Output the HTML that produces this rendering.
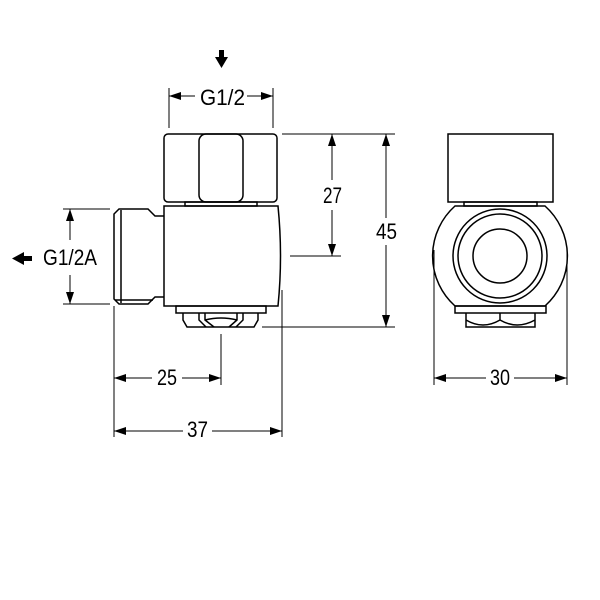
<!DOCTYPE html>
<html><head><style>html,body{margin:0;padding:0;background:#fff}svg{display:block}text{font-family:"Liberation Sans",sans-serif;font-size:22px;fill:#000}</style></head>
<body>
<svg width="600" height="600" viewBox="0 0 600 600" xmlns="http://www.w3.org/2000/svg">
<defs>
<marker id="a" viewBox="0 0 12 8" refX="12" refY="4" markerWidth="12" markerHeight="8" orient="auto-start-reverse" markerUnits="userSpaceOnUse"><path d="M0,0L12,4L0,8z" fill="#000"/></marker>
</defs>
<g fill="none" stroke="#000" stroke-width="1.5">
<rect x="164" y="134" width="113" height="68" rx="4"/>
<rect x="199" y="134" width="44" height="68" rx="7"/>
<rect x="185" y="202" width="72" height="4"/>
<path d="M164,206 L278,206 Q283,256 278,306 L164,306 Z"/>
<path d="M164,216 L155,216 L148,209 L119,209 L114,214 L114,299 L119,304 L148,304 L155,297 L164,297"/>
<line x1="121" y1="210" x2="121" y2="303"/>
<line x1="115" y1="300" x2="153" y2="300"/>
<rect x="176" y="306" width="90" height="7"/>
<path d="M183,313 L183,320 L187,327 L254,327 L258,320 L258,313"/>
<path d="M199,313 L199,320 L206,327 M205,313 L205,320 L214,327 M237,313 L237,320 L229,327 M243,313 L243,320 L236,327 M205,320 Q221,316 237,320"/>
<rect x="448" y="134" width="105" height="68"/>
<rect x="464" y="202" width="73" height="4"/>
<path d="M455,206 L545,206 A67,67 0 0 1 545,306 L455,306 A67,67 0 0 1 455,206 Z"/>
<circle cx="500" cy="256" r="47"/>
<circle cx="500" cy="256" r="42"/>
<circle cx="500" cy="256" r="27"/>
<rect x="455" y="306" width="91" height="7"/>
<path d="M466,313 L466,327 L535,327 L535,313 M500,313 L500,320 M466,320 Q483,330 500,320 Q517,330 535,320"/>
</g>
<g stroke="#000" stroke-width="1" fill="none">
<line x1="169" y1="88" x2="169" y2="128"/><line x1="273" y1="88" x2="273" y2="128"/>
<line x1="195" y1="96" x2="169" y2="96" marker-end="url(#a)"/>
<line x1="247" y1="96" x2="273" y2="96" marker-end="url(#a)"/>
<line x1="63" y1="209" x2="110" y2="209"/><line x1="63" y1="304" x2="110" y2="304"/>
<line x1="70" y1="240" x2="70" y2="209" marker-end="url(#a)"/>
<line x1="70" y1="275" x2="70" y2="304" marker-end="url(#a)"/>
<line x1="282" y1="134" x2="395" y2="134"/>
<line x1="290" y1="256" x2="341" y2="256"/>
<line x1="262" y1="327" x2="395" y2="327"/>
<line x1="332" y1="180" x2="332" y2="134" marker-end="url(#a)"/>
<line x1="332" y1="210" x2="332" y2="256" marker-end="url(#a)"/>
<line x1="386" y1="218" x2="386" y2="134" marker-end="url(#a)"/>
<line x1="386" y1="245" x2="386" y2="327" marker-end="url(#a)"/>
<line x1="114" y1="306" x2="114" y2="437"/>
<line x1="282" y1="290" x2="282" y2="437"/>
<line x1="221" y1="334" x2="221" y2="385"/>
<line x1="152" y1="378" x2="114" y2="378" marker-end="url(#a)"/>
<line x1="182" y1="378" x2="221" y2="378" marker-end="url(#a)"/>
<line x1="183" y1="431" x2="114" y2="431" marker-end="url(#a)"/>
<line x1="212" y1="431" x2="282" y2="431" marker-end="url(#a)"/>
<line x1="486" y1="378" x2="434" y2="378" marker-end="url(#a)"/>
<line x1="514" y1="378" x2="567" y2="378" marker-end="url(#a)"/>
<line x1="434" y1="250" x2="434" y2="385"/><line x1="567" y1="250" x2="567" y2="385"/>
</g>
<path d="M219,50 L224,50 L224,57 L228,57 L221.5,68 L215,57 L219,57 Z" fill="#000"/>
<path d="M32,256 L24,256 L24,252 L12,258.5 L24,265 L24,261 L32,261 Z" fill="#000"/>
<text x="200" y="105" textLength="45" lengthAdjust="spacingAndGlyphs">G1/2</text>
<text x="43" y="265" textLength="54" lengthAdjust="spacingAndGlyphs">G1/2A</text>
<text x="323" y="203" textLength="19" lengthAdjust="spacingAndGlyphs">27</text>
<text x="376" y="239" textLength="21" lengthAdjust="spacingAndGlyphs">45</text>
<text x="157" y="385" textLength="20" lengthAdjust="spacingAndGlyphs">25</text>
<text x="187" y="437" textLength="21" lengthAdjust="spacingAndGlyphs">37</text>
<text x="490" y="385" textLength="20" lengthAdjust="spacingAndGlyphs">30</text>
</svg>
</body></html>
